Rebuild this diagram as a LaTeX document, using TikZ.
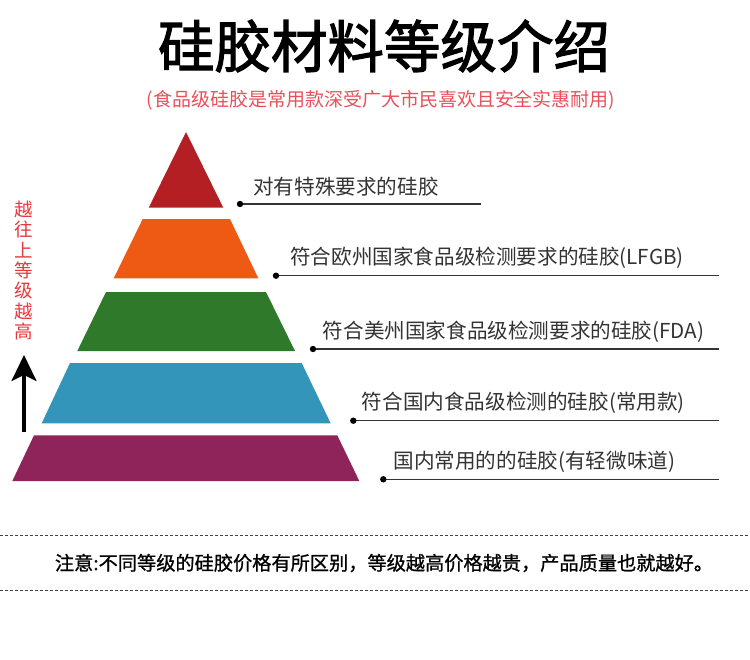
\documentclass[tikz,border=0pt]{standalone}
\usepackage{fontspec}
\setmainfont{Noto Sans CJK SC}
\newfontfamily\titlefont[FakeBold=2]{Noto Sans CJK SC}
\newfontfamily\notefont[FakeBold=1]{Noto Sans CJK SC}
\usetikzlibrary{arrows.meta}
\definecolor{cRed}{HTML}{B41F24}
\definecolor{cOrange}{HTML}{EE5A13}
\definecolor{cGreen}{HTML}{2E7A2A}
\definecolor{cBlue}{HTML}{3395B9}
\definecolor{cPurple}{HTML}{8E2459}
\definecolor{cPink}{HTML}{E8505B}
\definecolor{cRedText}{HTML}{E8383D}
\definecolor{cLabel}{HTML}{333333}
\tikzset{
  lbl/.style={anchor=west, inner sep=0pt, text=cLabel, font=\fontsize{20.6}{22}\selectfont},
  leader/.style={draw=cLabel, line width=1.3pt},
  dotmark/.style={fill=black},
  dashline/.style={draw=black!75, line width=0.8pt, dash pattern=on 3pt off 2pt}
}
\begin{document}
\begin{tikzpicture}[x=1pt,y=-1pt]
\useasboundingbox (0,0) rectangle (750,659);
% title
\node[inner sep=0pt, font=\fontsize{56.5}{60}\titlefont] (title) at (384,46) {硅胶材料等级介绍};
\node[inner sep=0pt, text=cPink, font=\fontsize{19}{20}\selectfont] (sub) at (381,100) {(食品级硅胶是常用款深受广大市民喜欢且安全实惠耐用)};
% pyramid
\fill[cRed] (186,132) -- (223.3,207.7) -- (148.7,207.7) -- cycle;
\fill[cOrange] (142.7,219) -- (230,219) -- (258.3,278.3) -- (113.7,278.3) -- cycle;
\fill[cGreen] (106,292) -- (266,292) -- (295,351) -- (77.3,351) -- cycle;
\fill[cBlue] (70,363) -- (301.7,363) -- (330.7,423.3) -- (41.7,423.3) -- cycle;
\fill[cPurple] (34,435.3) -- (337.3,435.3) -- (359.3,481) -- (12.3,481) -- cycle;
% leaders
\coordinate (d1) at (240,204);   \coordinate (e1) at (481,204);
\coordinate (d2) at (276,275.7); \coordinate (e2) at (719,275.7);
\coordinate (d3) at (313,349);   \coordinate (e3) at (719,349);
\coordinate (d4) at (353.3,420.7); \coordinate (e4) at (719,420.7);
\coordinate (d5) at (383.3,479.3); \coordinate (e5) at (719,479.3);
\foreach \i in {1,...,5}{
  \draw[leader] (d\i) -- (e\i);
  \fill[dotmark] (d\i) circle (3.2pt);
}
\node[lbl] (t1) at (253,187) {对有特殊要求的硅胶};
\node[lbl] (t2) at (290,258) {符合欧州国家食品级检测要求的硅胶(LFGB)};
\node[lbl] (t3) at (322.7,331.5) {符合美州国家食品级检测要求的硅胶(FDA)};
\node[lbl] (t4) at (361.7,403) {符合国内食品级检测的硅胶(常用款)};
\node[lbl] (t5) at (393.3,461.5) {国内常用的的硅胶(有轻微味道)};
% left vertical text and arrow
\node[inner sep=0pt, text=cRedText, align=center, font=\fontsize{18.5}{20.4}\selectfont] (vt) at (24,270.4) {越\\往\\上\\等\\级\\越\\高};
\coordinate (abot) at (24,432);
\coordinate (atop) at (24,355);
\draw[line width=3.2pt, -{Stealth[length=26pt,width=25pt,inset=6pt]}] (abot) -- (atop);
% dashed separators and note
\coordinate (l1a) at (0,535); \coordinate (l1b) at (750,535);
\coordinate (l2a) at (0,590); \coordinate (l2b) at (750,590);
\draw[dashline] (l1a) -- (l1b);
\draw[dashline] (l2a) -- (l2b);
\node[inner sep=0pt, font=\fontsize{19.2}{20}\notefont] (note) at (384,563) {注意:不同等级的硅胶价格有所区别，等级越高价格越贵，产品质量也就越好。};
\end{tikzpicture}
\end{document}
